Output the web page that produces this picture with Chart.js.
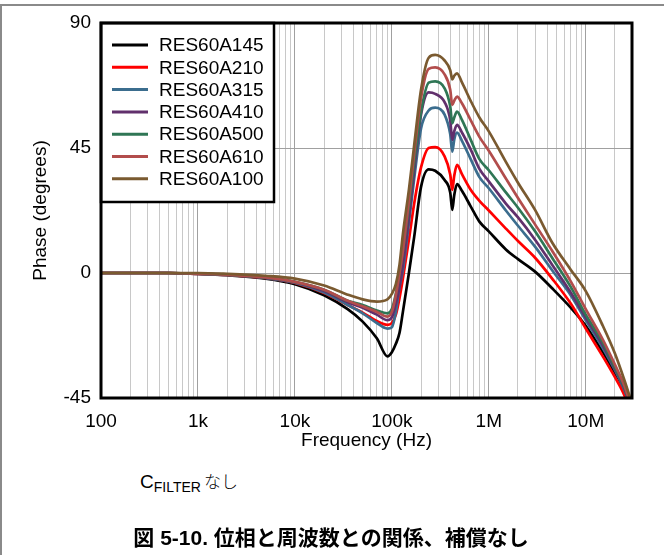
<!DOCTYPE html>
<html>
<head>
<meta charset="utf-8">
<script src="https://cdn.jsdelivr.net/npm/chart.js@4.4.0/dist/chart.umd.min.js"></script>
<style>
html,body{margin:0;padding:0;background:#fff;}
body{width:664px;height:555px;position:relative;overflow:hidden;font-family:"Liberation Sans",Arial,sans-serif;color:#000;}
#wrap{position:absolute;left:0;top:0;width:664px;height:460px;}
#frameTop{position:absolute;left:0;top:4px;width:664px;height:2px;background:#8a8a8a;}
#frameLeft{position:absolute;left:0;top:4px;width:2px;height:551px;background:#8a8a8a;}
#note{position:absolute;left:140px;top:470px;font-size:19px;line-height:22px;white-space:nowrap;}
#note sub{font-size:14px;vertical-align:-4px;}
#note .jp{font-family:"Noto Sans CJK JP",sans-serif;font-size:17px;font-weight:300;margin-left:3px;}
#caption{position:absolute;left:0;top:525px;width:662px;text-align:center;font-size:21px;line-height:26px;font-weight:bold;font-family:"Liberation Sans",Arial,"Noto Sans CJK JP",sans-serif;white-space:nowrap;}
</style>
</head>
<body>
<div id="wrap"><canvas id="c" width="664" height="460"></canvas></div>
<div id="frameTop"></div>
<div id="frameLeft"></div>
<div id="note">C<sub>FILTER</sub><span class="jp">なし</span></div>
<div id="caption">図 5-10. 位相と周波数との関係、補償なし</div>
<script>
// ---- data ----
const freqHz = [100, 200, 500, 1000, 2000, 5000, 10000, 20000, 35000, 50000, 70000, 90000,
  100000, 110000, 120000, 130000, 150000, 170000, 200000, 240000, 280000, 350000, 400000, 420000, 440000,
  470000, 530000, 650000, 800000, 1e6, 1.5e6, 2e6, 3e6, 4.5e6, 7e6, 1e7, 1.5e7, 2e7, 2.5e7, 3e7];

const phaseRES60A145 = [0,0,0,-0.3,-0.8,-2,-4,-8,-13,-17.5,-23.5,-30,-28.5,-25.5,-21.5,-14,0,13,31,37.3,36.8,33.5,29,22.7,28,32,29.5,24,18.5,15,8.5,5,0.5,-5.5,-12.5,-19,-28.5,-36,-42,-50];
const phaseRES60A210 = [0,0,0,-0.3,-0.7,-1.8,-3.6,-7.2,-11.5,-14.3,-17.3,-18.7,-18,-15,-9,-2,12,25,38,45,45.3,42,35.5,29.9,35,38.9,35.5,30,26,22.5,16,11.5,5.5,-2,-11,-20,-30,-37.5,-44,-52];
const phaseRES60A315 = [0,0,0,-0.3,-0.7,-1.8,-3.5,-7,-11.5,-14.5,-18,-20,-19.5,-14,-5,1,18,34,52,58.5,59.5,57,50,43.7,48,50.5,47.5,41,34.5,30.5,22.5,17,9.5,1,-8,-17,-27,-35,-42,-50];
const phaseRES60A410 = [0,0,0,-0.2,-0.6,-1.7,-3.3,-6.5,-10.5,-12.5,-15,-17,-16,-11,-5,3,20,37,57,65,64.5,61.5,55,47.9,51,53.3,50.5,44.5,37.5,33,25,20,12,3,-7,-16,-26,-34.5,-41.5,-50];
const phaseRES60A500 = [0,0,0,-0.2,-0.6,-1.6,-3.2,-6,-10,-11.5,-13.5,-14.5,-13,-7.5,0,8,24,40,58,68.5,69,66.5,60,53.9,56,58.1,55,48,41,37,29,23.5,15,5.5,-5,-15,-25,-34,-41,-49];
const phaseRES60A610 = [0,0,0,-0.2,-0.6,-1.6,-3.2,-6,-10,-12,-14,-15.7,-14,-8,0,8,26,43,63,73.5,74,71.5,66,60.5,62,63.5,61,55,49,44,34,27,17.5,8,-3,-13,-24,-33,-40.5,-49];
const phaseRES60A100 = [0,0,0,0,-0.3,-1,-2,-4.5,-7.8,-9.5,-10.3,-9.5,-7.5,-4,3,14,30,46,66,77.5,78.5,76.5,73,69.7,71,71.9,68.5,62,56,51,40,32.5,22.7,11,1.2,-6.5,-19,-29,-38.5,-47];

const seriesNames = ['RES60A145','RES60A210','RES60A315','RES60A410','RES60A500','RES60A610','RES60A100'];
const seriesValues = [phaseRES60A145, phaseRES60A210, phaseRES60A315, phaseRES60A410, phaseRES60A500, phaseRES60A610, phaseRES60A100];
const seriesColors = ['#000000','#ff0000','#3b6d8e','#61306c','#2f7655','#b24d4c','#7a5a30'];

const xTickValues = [100, 1000, 10000, 100000, 1000000, 10000000];
const xTickLabels = ['100','1k','10k','100k','1M','10M'];
const yTickValues = [-45, 0, 45, 90];
const xMin = 100, xMax = 3e7, yMin = -45, yMax = 90;

// ---- chart ----
const FONT = '"Liberation Sans", Arial, sans-serif';
Chart.defaults.font.family = FONT;
Chart.defaults.color = '#000';

const datasets = seriesNames.map((name, i) => ({
  label: name,
  data: freqHz.map((f, k) => ({x: f, y: seriesValues[i][k]})),
  borderColor: seriesColors[i],
  backgroundColor: seriesColors[i],
  borderWidth: 2.7,
  pointRadius: 0,
  cubicInterpolationMode: 'monotone',
  fill: false,
  order: seriesNames.length - 1 - i
}));

const boxPlugin = {
  id: 'boxPlugin',
  afterDatasetsDraw(chart) {
    const {ctx, chartArea: a} = chart;
    ctx.save();
    const bx = a.left, by = a.top, bw = 173, bh = 179;
    ctx.fillStyle = '#fff';
    ctx.fillRect(bx, by, bw, bh);
    ctx.lineWidth = 2.5;
    ctx.strokeStyle = '#000';
    ctx.strokeRect(bx, by, bw, bh);
    ctx.font = '19px ' + FONT;
    ctx.textBaseline = 'middle';
    ctx.textAlign = 'left';
    seriesNames.forEach((name, i) => {
      const y = by + 22 + i * 22.3;
      ctx.strokeStyle = seriesColors[i];
      ctx.lineWidth = 3;
      ctx.beginPath();
      ctx.moveTo(bx + 11, y);
      ctx.lineTo(bx + 47, y);
      ctx.stroke();
      ctx.fillStyle = '#000';
      ctx.fillText(name, bx + 58, y + 1);
    });
    ctx.lineWidth = 3;
    ctx.strokeStyle = '#000';
    ctx.strokeRect(a.left, a.top, a.right - a.left, a.bottom - a.top);
    ctx.restore();
  }
};

new Chart(document.getElementById('c'), {
  type: 'line',
  data: { datasets },
  plugins: [boxPlugin],
  options: {
    responsive: false,
    devicePixelRatio: 1,
    animation: false,
    layout: { padding: { top: 23, right: 32, left: 0, bottom: 0 } },
    plugins: { legend: { display: false }, tooltip: { enabled: false } },
    scales: {
      x: {
        type: 'logarithmic',
        min: xMin, max: xMax,
        afterBuildTicks: (s) => {
          const t = [];
          for (let d = 100; d <= 1e7; d *= 10) {
            for (let m = 1; m <= 9; m++) {
              const v = d * m;
              if (v <= xMax) t.push({ value: v });
            }
          }
          s.ticks = t;
        },
        afterFit: (s) => { s.height = 62; },
        ticks: {
          autoSkip: false, maxRotation: 0, minRotation: 0, padding: 12,
          color: '#000', font: { size: 19 },
          callback: (v) => { const i = xTickValues.indexOf(v); return i >= 0 ? xTickLabels[i] : ''; }
        },
        grid: {
          drawTicks: false,
          lineWidth: 1,
          color: (c) => (c.tick && xTickValues.includes(c.tick.value)) ? '#a0a0a0' : '#c8c8c8'
        },
        border: { display: false },
        title: { display: true, text: 'Frequency (Hz)', color: '#000', font: { size: 19 }, padding: { top: 0, bottom: 8 } }
      },
      y: {
        type: 'linear',
        min: yMin, max: yMax,
        afterBuildTicks: (s) => { s.ticks = yTickValues.map(v => ({ value: v })); },
        afterFit: (s) => { s.width = 101; },
        ticks: { padding: 10, color: '#000', font: { size: 19 }, callback: (v) => String(v) },
        grid: { drawTicks: false, lineWidth: 1, color: '#a0a0a0' },
        border: { display: false },
        title: { display: true, text: 'Phase (degrees)', color: '#000', font: { size: 19 }, padding: { top: 29, bottom: 0 } }
      }
    }
  }
});
</script>
</body>
</html>
